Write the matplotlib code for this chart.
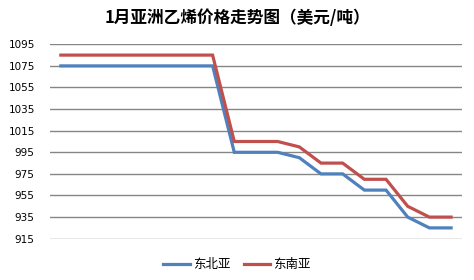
import numpy as np
import matplotlib.pyplot as plt

plt.rcParams['font.family'] = ['Noto Sans CJK SC', 'DejaVu Sans']

# 1月各交易日价格（美元/吨）
days = list(range(1, 20))
ne_asia = [1075, 1075, 1075, 1075, 1075, 1075, 1075, 1075,
           995, 995, 995, 990, 975, 975, 960, 960, 935, 925, 925]
se_asia = [1085, 1085, 1085, 1085, 1085, 1085, 1085, 1085,
           1005, 1005, 1005, 1000, 985, 985, 970, 970, 945, 935, 935]
yticks = [915, 935, 955, 975, 995, 1015, 1035, 1055, 1075, 1095]

fig = plt.figure(figsize=(4.74, 2.80), dpi=100)
ax = fig.add_axes([0.1055, 0.1475, 0.869, 0.6943])

x = np.arange(len(days))
ax.plot(x, ne_asia, color='#4F81BD', linewidth=2.3, label='东北亚', solid_joinstyle='miter')
ax.plot(x, se_asia, color='#C0504D', linewidth=2.3, label='东南亚', solid_joinstyle='miter')

ax.set_xlim(-0.5, len(days) - 0.5)
ax.set_ylim(915, 1095)
ax.set_yticks(yticks)
ax.set_yticklabels([str(v) for v in yticks], fontfamily='DejaVu Sans', fontsize=7.5)
ax.set_xticks([])
ax.tick_params(axis='y', length=0, pad=11)
for s in ax.spines.values():
    s.set_visible(False)
ax.grid(axis='y', color='#868686', linewidth=1.0)
ax.set_axisbelow(True)

fig.text(0.5, 0.937, '1月亚洲乙烯价格走势图（美元/吨）', ha='center', va='center',
         fontsize=12, fontweight='bold')

fig.legend(loc='center', bbox_to_anchor=(0.5, 0.054), ncol=2, frameon=False,
           fontsize=9, handlelength=2.1, handletextpad=0.25, columnspacing=1.1)

fig.savefig('out.png', dpi=100)
